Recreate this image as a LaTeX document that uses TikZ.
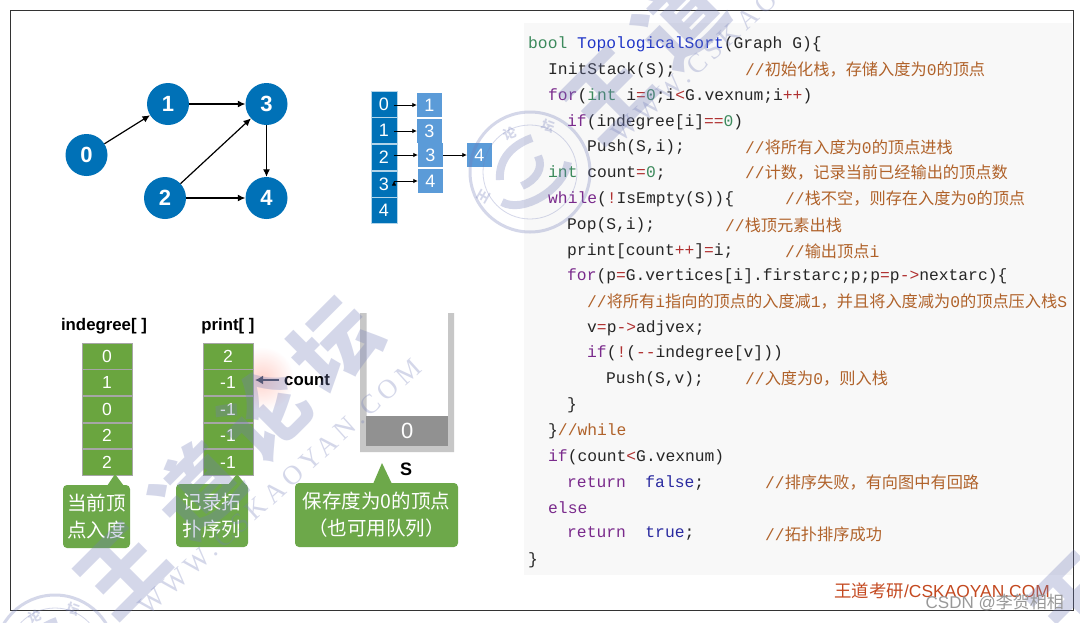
\documentclass[tikz,border=0pt]{standalone}
\usepackage{fontspec}
\setmainfont{Liberation Sans}
\setmonofont{Liberation Mono}
\newfontfamily\cjk{Noto Sans CJK SC}
\newfontfamily\wmfont[LetterSpace=18]{Liberation Serif}
\usetikzlibrary{arrows.meta,positioning,fadings}
\definecolor{vblue}{HTML}{0071B7}
\definecolor{lblue}{HTML}{5B9BD8}
\definecolor{cgreen}{HTML}{6AA53F}
\definecolor{tipgreen}{HTML}{6DA84A}
\definecolor{wmark}{HTML}{737DB9}
\definecolor{codebg}{HTML}{F8F8F8}
\definecolor{ckey}{HTML}{7A2A8C}
\definecolor{ctype}{HTML}{3C8A5C}
\definecolor{cfun}{HTML}{2036C8}
\definecolor{cval}{HTML}{2A2AA0}
\definecolor{cop}{HTML}{B03030}
\definecolor{cnote}{HTML}{B0622A}
\definecolor{cntarrow}{HTML}{4A4A5C}
\newcommand{\ky}[1]{\textcolor{ckey}{#1}}
\newcommand{\ty}[1]{\textcolor{ctype}{#1}}
\newcommand{\op}[1]{\textcolor{cop}{#1}}
\newcommand{\va}[1]{\textcolor{cval}{#1}}
\newcommand{\zh}[1]{{\cjk\fontsize{16.2}{16.2}\selectfont #1}}
\tikzfading[name=glowfade,inner color=transparent!80,outer color=transparent!100]
\tikzstyle{vtx}=[circle,fill=vblue,text=white,minimum size=42pt,inner sep=0pt,font=\bfseries\fontsize{22}{22}\selectfont]
\tikzstyle{arc}=[-{Latex[length=7.5pt,width=7pt]},draw=black,line width=1.2pt]
\tikzstyle{head}=[fill=vblue,draw=white!70!vblue,line width=.6pt,minimum width=26pt,minimum height=26pt,inner sep=0pt,text=white,font=\fontsize{18}{18}\selectfont]
\tikzstyle{elem}=[fill=lblue,minimum width=25pt,minimum height=24pt,inner sep=0pt,text=white,font=\fontsize{18}{18}\selectfont]
\tikzstyle{small}=[-{Latex[length=4.5pt,width=4.5pt]},draw=black,line width=.7pt]
\tikzstyle{cell}=[fill=cgreen,draw=black!35,line width=.8pt,minimum width=50pt,minimum height=25.8pt,inner sep=0pt,text=white,font=\fontsize{17.5}{17.5}\selectfont]
\tikzstyle{title}=[font=\bfseries\fontsize{16.8}{16.8}\selectfont,text=black]
\tikzstyle{tip}=[fill=tipgreen,rounded corners=4pt,text=white,align=center,inner sep=0pt,font=\cjk\fontsize{19.5}{27}\selectfont]
\tikzstyle{code}=[anchor=west,inner sep=0pt,yshift=-1pt,font=\ttfamily\fontsize{16.3}{16.3}\selectfont,text=black!85]
\tikzstyle{note}=[code,text=cnote]
\tikzstyle{wm}=[text=wmark,text opacity=.3,font=\cjk\bfseries\fontsize{85}{85}\selectfont,rotate=45,inner sep=0pt]
\tikzstyle{wmurl}=[text=wmark,text opacity=.3,font=\wmfont\fontsize{27}{27}\selectfont,rotate=42,inner sep=0pt]
\tikzstyle{sealch}=[text=wmark,text opacity=.3,font=\cjk\bfseries\fontsize{13}{13}\selectfont,inner sep=0pt]
\tikzset{seal/.pic={
  \draw[wmark,opacity=.3,line width=3pt] (0,0) circle (60);
  \draw[wmark,opacity=.3,line width=.8pt] (0,0) circle (47);
  \node[sealch,rotate=60] (wang) at (-46,24) {王};
  \node[sealch,rotate=20] (lun) at (-20,-38) {论};
  \node[sealch,rotate=-20] (tan) at (18,-46) {坛};
  \draw[wmark,opacity=.3,line width=8pt] (-28,30) .. controls (-8,42) and (34,18) .. (38,-10);
  \draw[wmark,opacity=.3,line width=8pt] (-30,8) .. controls (-32,-18) and (-10,-30) .. (2,-34);
  \draw[wmark,opacity=.3,line width=8pt] (-8,14) .. controls (6,8) and (14,-4) .. (8,-16);
}}
\begin{document}
\begin{tikzpicture}[x=1pt,y=-1pt]
\path[use as bounding box] (0,0) rectangle (1080,622);
\fill[white] (0,0) rectangle (1080,622);
\draw[black!80,line width=.9pt] (10,10) rectangle (1073.5,610);
\fill[codebg] (524,23) rectangle (1072,575);
% graph
\node[vtx] (v0) at (86.5,155) {0};
\node[vtx] (v1) at (168,104) {1};
\node[vtx] (v2) at (165,198) {2};
\node[vtx] (v3) at (266.5,104) {3};
\node[vtx] (v4) at (266.5,198) {4};
\path[arc]
  (v0) edge (v1)
  (v1) edge (v3)
  (v2) edge (v3)
  (v2) edge (v4)
  (v3) edge (v4);
% adjacency list
\node[head] (h0) at (384,104) {0};
\node[head,below=0pt of h0] (h1) {1};
\node[head,below=0pt of h1] (h2) {2};
\node[head,below=0pt of h2] (h3) {3};
\node[head,below=0pt of h3] (h4) {4};
\node[elem] (e0) at (429.5,105) {1};
\node[elem] (e1) at (429.5,131) {3};
\node[elem] (e2) at (430.5,155) {3};
\node[elem] (e3) at (430.5,181) {4};
\node[elem] (e4) at (479.5,155) {4};
\coordinate (p0) at (394,105);
\coordinate (p1) at (394,131);
\coordinate (p2) at (394,155);
\coordinate (p3) at (394,181);
\path[small]
  (p0) edge (e0)
  (p1) edge (e1)
  (p2) edge (e2)
  (p3) edge (e3)
  (e2) edge (e4);
% arrays
\fill[red!70!orange,path fading=glowfade] (262,379) circle (32);
\node[title] (tind) at (104,326) {indegree[ ]};
\node[title] (tpri) at (228,326) {print[ ]};
\node[cell] (a0) at (107,356) {0};
\node[cell,below=0pt of a0] (a1) {1};
\node[cell,below=0pt of a1] (a2) {0};
\node[cell,below=0pt of a2] (a3) {2};
\node[cell,below=0pt of a3] (a4) {2};
\node[cell] (b0) at (228,356) {2};
\node[cell,below=0pt of b0] (b1) {-1};
\node[cell,below=0pt of b1] (b2) {-1};
\node[cell,below=0pt of b2] (b3) {-1};
\node[cell,below=0pt of b3] (b4) {-1};
\node[title,anchor=west,inner sep=0pt] (cnt) at (284,380) {count};
\coordinate (cntt) at (279,380);
\coordinate (cnth) at (255,380);
\draw[-{Latex[length=8pt,width=9pt]},draw=cntarrow,line width=2.8pt] (cntt) -- (cnth);
% stack
\fill[black!22] (360,313) rectangle (366.5,452) (448,313) rectangle (454,452) (360,446) rectangle (454,452);
\node[fill=black!43,minimum width=81.5pt,minimum height=30pt,inner sep=0pt,text=white,font=\fontsize{22}{22}\selectfont] (s0) at (407.2,431) {0};
\node[title,font=\bfseries\fontsize{18}{18}\selectfont] (sname) at (406,469) {S};
% tips
\node[tip,minimum width=67pt,minimum height=63pt] (tip1) at (96.5,516.5) {当前顶\\点入度};
\node[tip,minimum width=72pt,minimum height=63pt] (tip2) at (212,515.5) {记录拓\\扑序列};
\node[tip,minimum width=163pt,minimum height=64pt] (tip3) at (376.5,515) {保存度为0的顶点\\（也可用队列）};
\fill[tipgreen] (107,486) -- (124,486) -- (115,474) -- cycle;
\fill[tipgreen] (228,485) -- (246,485) -- (237,474) -- cycle;
\fill[tipgreen] (373,484) -- (392,484) -- (382,463) -- cycle;
% code
\node[code] (c1) at (528,43) {\ty{bool} \textcolor{cfun}{TopologicalSort}(Graph G)\{};
\node[code] (c2) at (548,69) {InitStack(S);};
\node[note] (n2) at (745,69) {//\zh{初始化栈，存储入度为}0\zh{的顶点}};
\node[code] (c3) at (548,95) {\ky{for}(\ty{int} i\op{=}\ty{0};i\op{<}G.vexnum;i\op{++})};
\node[code] (c4) at (567,121) {\ky{if}(indegree[i]\op{==}\ty{0})};
\node[code] (c5) at (587,146) {Push(S,i);};
\node[note] (n5) at (745,146) {//\zh{将所有入度为}0\zh{的顶点进栈}};
\node[code] (c6) at (548,172) {\ty{int} count\op{=}\ty{0};};
\node[note] (n6) at (745,172) {//\zh{计数，记录当前已经输出的顶点数}};
\node[code] (c7) at (548,198) {\ky{while}(\op{!}IsEmpty(S))\{};
\node[note] (n7) at (785,198) {//\zh{栈不空，则存在入度为}0\zh{的顶点}};
\node[code] (c8) at (567,224) {Pop(S,i);};
\node[note] (n8) at (725,224) {//\zh{栈顶元素出栈}};
\node[code] (c9) at (567,250) {print[count\op{++}]\op{=}i;};
\node[note] (n9) at (785,250) {//\zh{输出顶点}i};
\node[code] (c10) at (567,275) {\ky{for}(p\op{=}G.vertices[i].firstarc;p;p\op{=}p\op{->}nextarc)\{};
\node[note] (n11) at (587,301) {//\zh{将所有}i\zh{指向的顶点的入度减}1\zh{，并且将入度减为}0\zh{的顶点压入栈}S};
\node[code] (c12) at (587,327) {v\op{=}p\op{->}adjvex;};
\node[code] (c13) at (587,352) {\ky{if}(\op{!}(\op{--}indegree[v]))};
\node[code] (c14) at (606,378) {Push(S,v);};
\node[note] (n14) at (745,378) {//\zh{入度为}0\zh{，则入栈}};
\node[code] (c15) at (567,404) {\}};
\node[code] (c16) at (548,430) {\}\textcolor{cnote}{//while}};
\node[code] (c17) at (548,456) {\ky{if}(count\op{<}G.vexnum)};
\node[code] (c18) at (567,482) {\ky{return}\ \ \va{false};};
\node[note] (n18) at (765,482) {//\zh{排序失败，有向图中有回路}};
\node[code] (c19) at (548,507) {\ky{else}};
\node[code] (c20) at (567,533) {\ky{return}\ \ \va{true};};
\node[note] (n20) at (765,533) {//\zh{拓扑排序成功}};
\node[code] (c21) at (528,559) {\}};
% footer
\node[anchor=east,inner sep=0pt,text=cnote!75!red,font=\fontsize{17.4}{17.4}\selectfont] (foot) at (1050,591) {{\cjk 王道考研}/CSKAOYAN.COM};
% watermark
\node[wm] (w1) at (122,570) {王};
\node[wm] (w2) at (197,490) {道};
\node[wm] (w3) at (265,415) {论};
\node[wm] (w4) at (335,345) {坛};
\node[wm] (w5) at (608,95) {王};
\node[wm] (w6) at (680,20) {道};
\node[wm] (w7) at (1075,600) {王};
\node[wmurl] (u1) at (280,487) {WWW.CSKAOYAN.COM};
\node[wmurl] (u2) at (753,14) {WWW.CSKAOYAN.COM};
\pic (sa) at (530,172) {seal};
\pic (sb) at (55,655) {seal};
\node[anchor=east,inner sep=0pt,text=black!40,font=\fontsize{17}{17}\selectfont] (csdn) at (1064,603) {CSDN @{\cjk 李贺相相}};
\end{tikzpicture}
\end{document}
